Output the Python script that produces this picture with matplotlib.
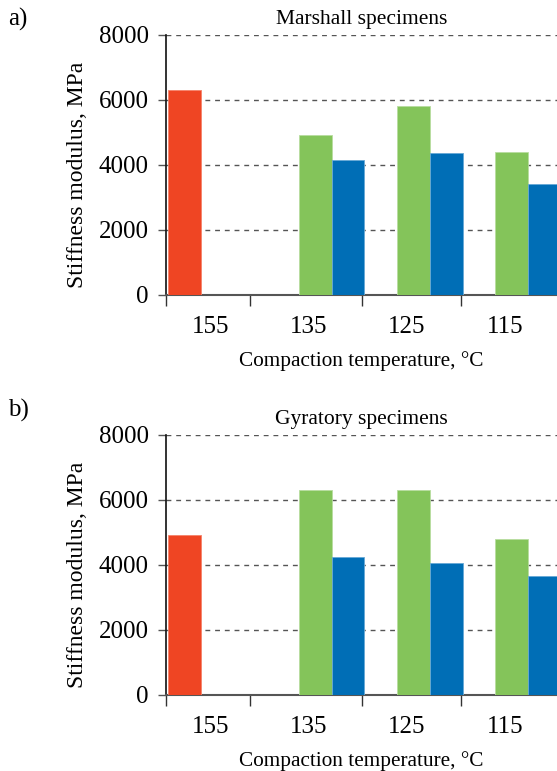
import matplotlib
matplotlib.use("Agg")
import matplotlib.pyplot as plt
import numpy as np

plt.rcParams['font.family'] = ['Liberation Serif', 'DejaVu Serif']

categories = ["155", "135", "125", "115"]
marshall_red = [6300, 0, 0, 0]
marshall_green = [0, 4900, 5800, 4400]
marshall_blue = [0, 4150, 4350, 3400]
gyratory_red = [4900, 0, 0, 0]
gyratory_green = [0, 6300, 6300, 4800]
gyratory_blue = [0, 4250, 4050, 3650]
yticks = [0, 2000, 4000, 6000, 8000]

colors = ["#EF4523", "#84C45A", "#006EB6"]
edgecolors = ["#F5826A", "#B8DDA0", "#66A8D6"]

W, H = 557, 771
fig = plt.figure(figsize=(W / 100, H / 100), dpi=100)

def make_panel(bottom_px, values, title, letter, letter_y):
    ax = fig.add_axes([166 / W, (H - bottom_px) / H, (W - 166) / W, 260 / H])
    x = np.arange(len(categories))
    bw = 1 / 3
    for k, vals in enumerate(values):
        ax.bar(x + 0.02 + bw * k + bw / 2, vals, width=bw, color=colors[k],
               edgecolor=edgecolors[k], linewidth=0.6, zorder=3)
    ax.set_ylim(0, 8000)
    ax.set_xlim(0, 3.98)
    ax.set_yticks(yticks)
    ax.set_yticklabels([str(v) for v in yticks], fontsize=18)
    ax.yaxis.grid(True, linestyle=(0, (3.5, 3.5)), color="#555555", linewidth=1.0, zorder=0)
    ax.set_axisbelow(True)
    ax.tick_params(axis='y', direction='out', length=6, width=1.0, color="#555555", pad=6.5)
    ax.set_xticks([0, 0.86, 2.0, 3.0])
    ax.set_xticklabels([])
    ax.set_xticks(x + 0.45, minor=True)
    ax.set_xticklabels(categories, minor=True, fontsize=18)
    ax.tick_params(axis='x', which='major', direction='out', length=8, width=1.0, color="#333333")
    ax.tick_params(axis='x', which='minor', length=0, pad=15)
    for s in ["top", "right"]:
        ax.spines[s].set_visible(False)
    ax.spines["left"].set_color("#111111")
    ax.spines["left"].set_linewidth(1.2)
    ax.spines["bottom"].set_color("#555555")
    ax.spines["bottom"].set_linewidth(1.5)
    ax.set_xlabel("Compaction temperature, \u00b0C", fontsize=15.3, labelpad=10)
    ax.set_ylabel("Stiffness modulus, MPa", fontsize=17)
    ax.yaxis.set_label_coords(-0.2, 0.46)
    ax.set_title(title, fontsize=15.5, pad=8)
    fig.text(8 / W, 1 - letter_y / H, letter, fontsize=18, va="center", ha="left")
    return ax

make_panel(294.7, [marshall_red, marshall_green, marshall_blue], "Marshall specimens", "a)", 19)
make_panel(694.7, [gyratory_red, gyratory_green, gyratory_blue], "Gyratory specimens", "b)", 410)

fig.savefig("out.png", dpi=100)
